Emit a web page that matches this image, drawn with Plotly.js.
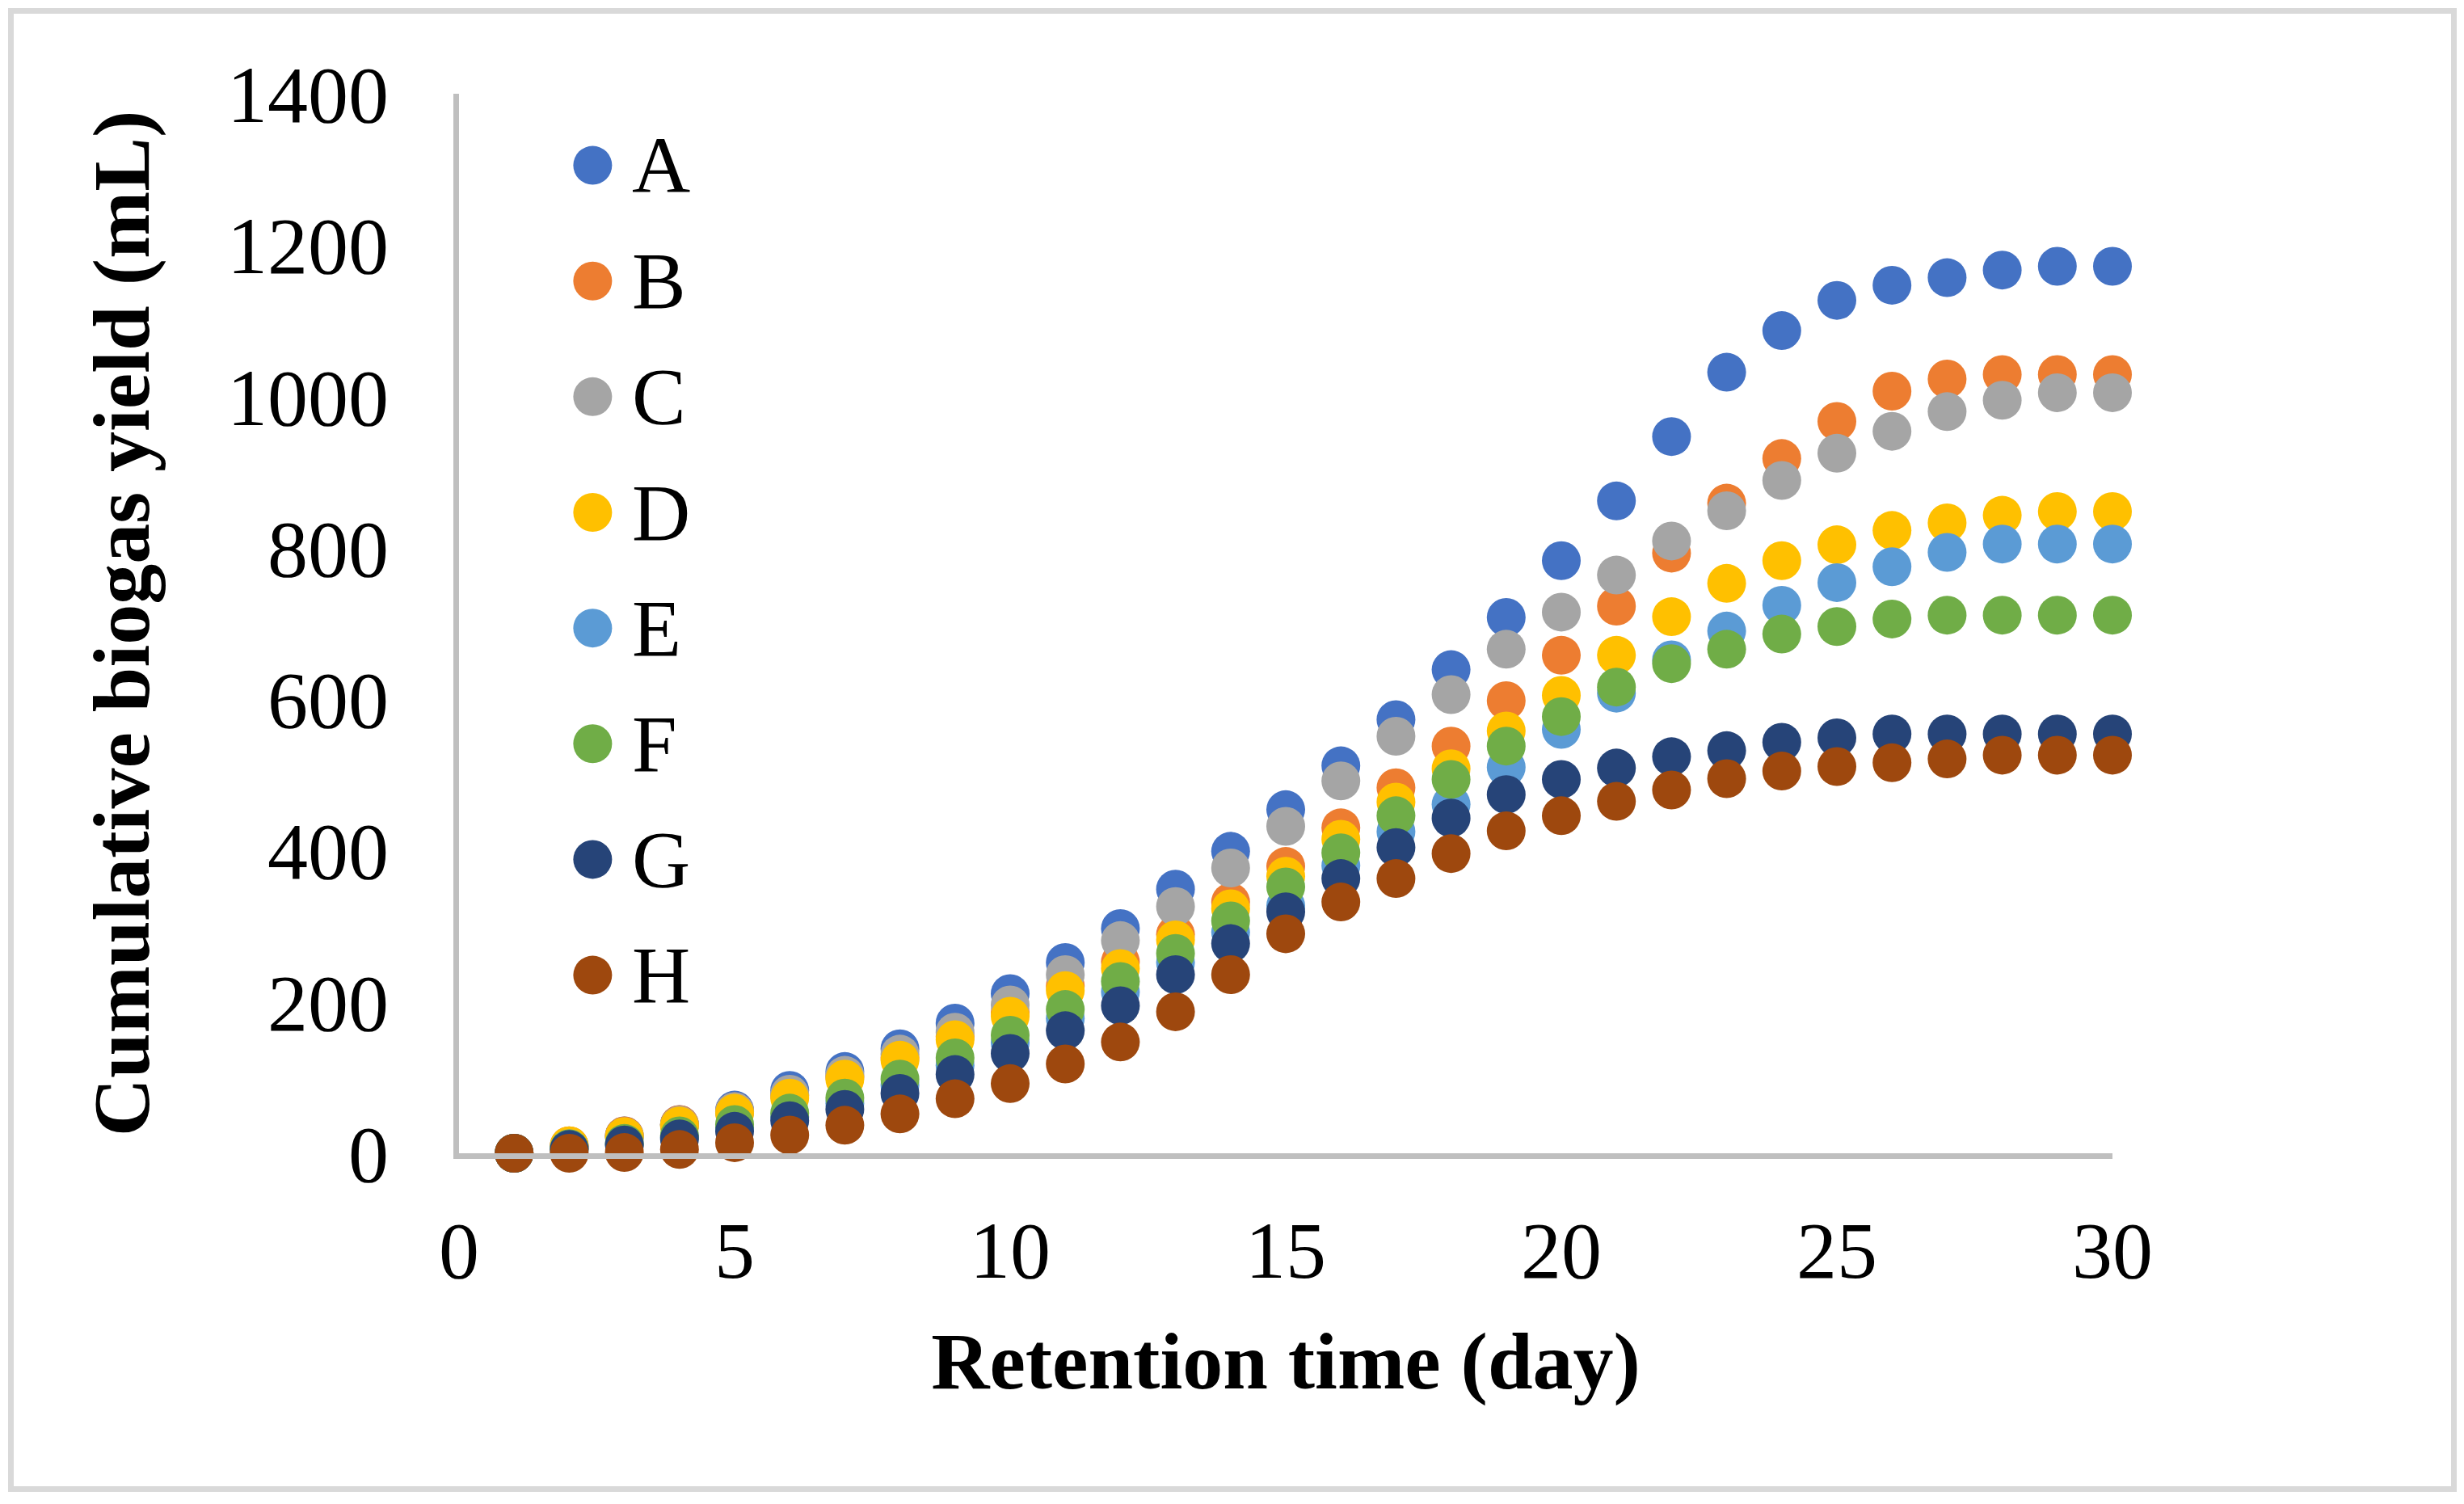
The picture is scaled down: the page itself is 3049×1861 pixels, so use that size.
<!DOCTYPE html>
<html>
<head>
<meta charset="utf-8">
<script src="https://cdn.plot.ly/plotly-3.0.1.min.js"></script>
<style>
  html, body { margin: 0; padding: 0; background: #ffffff; }
  #frame { position: absolute; left: 10px; top: 10px; width: 3016px; height: 1822px; border: 7px solid #D9D9D9; }
  #chart { position: absolute; left: 0; top: 0; width: 3049px; height: 1861px; }
</style>
</head>
<body>
<div id="frame"></div>
<div id="chart"></div>
<script>
const days = [1,2,3,4,5,6,7,8,9,10,11,12,13,14,15,16,17,18,19,20,21,22,23,24,25,26,27,28,29,30];
const seriesNames = ["A","B","C","D","E","F","G","H"];
const seriesColors = ["#4472C4","#ED7D31","#A5A5A5","#FFC000","#5B9BD5","#70AD47","#264478","#9E480E"];
const A = [0,9,23,38,57,83,108,138,172,211,252,297,349,399,454,512,573,639,708,783,862,947,1032,1087,1127,1147,1157,1167,1172,1172];
const B = [0,10,23,38,55,76,101,126,154,186,221,253,289,332,379,430,483,538,598,658,723,793,859,918,967,1007,1023,1029,1029,1029];
const C = [0,9,22,37,55,78,103,131,160,196,236,281,326,377,432,492,551,606,666,715,764,809,849,889,925,954,980,995,1005,1005];
const D = [0,10,22,36,53,73,98,123,150,181,215,244,282,323,366,415,464,508,558,605,658,709,753,783,804,823,833,843,848,848];
const E = [0,6,12,21,34,48,66,90,116,146,178,213,252,292,327,380,425,461,510,560,608,652,690,724,754,775,794,805,805,805];
const F = [0,6,13,23,38,53,73,98,126,156,190,227,264,307,352,397,446,494,538,577,616,647,666,686,696,706,711,711,711,711];
const G = [0,5,11,19,29,43,58,79,104,132,162,195,236,277,319,363,404,443,474,494,509,524,532,543,549,554,554,554,554,554];
const H = [0,0,1,5,14,24,37,52,72,92,118,147,187,236,290,332,363,396,426,446,465,480,495,505,511,516,521,526,526,526];
const seriesValues = [A,B,C,D,E,F,G,H];
const xTicks = [0,5,10,15,20,25,30];
const yTicks = [0,200,400,600,800,1000,1200,1400];

const FONT = "'Liberation Serif', 'Times New Roman', serif";

const traces = seriesNames.map((name, i) => ({
  type: 'scatter',
  mode: 'markers',
  name: name,
  x: days,
  y: seriesValues[i],
  cliponaxis: false,
  marker: { size: 48, color: seriesColors[i], line: { width: 0 } },
  showlegend: false,
  hoverinfo: 'x+y+name'
}));

// Legend drawn with shapes + annotations (plot-area paper coords)
const W = 3049, Hh = 1861;
const mL = 567.6, mR = W - 2614, mT = 116, mB = Hh - 1427.5;
const pw = W - mL - mR, ph = Hh - mT - mB;
const legMarkerX = (733 - mL) / pw;
const legTextX = (780 - mL) / pw;
const legY0 = 204.6, legStep = 143.2;
const shapes = [], annotations = [];
seriesNames.forEach((name, i) => {
  const py = legY0 + legStep * i;
  const yp = (mT + ph - py) / ph;
  shapes.push({
    type: 'circle', xref: 'paper', yref: 'paper',
    xsizemode: 'pixel', ysizemode: 'pixel',
    xanchor: legMarkerX, yanchor: yp,
    x0: -24, x1: 24, y0: -24, y1: 24,
    fillcolor: seriesColors[i], line: { width: 0 }
  });
  annotations.push({
    xref: 'paper', yref: 'paper', x: legTextX, y: yp,
    xanchor: 'left', yanchor: 'middle', showarrow: false,
    text: name, font: { family: FONT, size: 100, color: '#000000' }
  });
});

const layout = {
  width: W, height: Hh,
  margin: { l: mL, r: mR, t: mT, b: mB, pad: 0 },
  paper_bgcolor: 'rgba(0,0,0,0)',
  plot_bgcolor: 'rgba(0,0,0,0)',
  showlegend: false,
  font: { family: FONT, size: 100, color: '#000000' },
  xaxis: {
    range: [0, 30], tickvals: xTicks, ticktext: xTicks.map(String),
    showgrid: false, zeroline: false, showline: true,
    linecolor: '#BFBFBF', linewidth: 7, ticks: '',
    ticklabelstandoff: 27,
    tickfont: { family: FONT, size: 100, color: '#000000' },
    title: { text: '<b>Retention time (day)</b>', standoff: 48,
             font: { family: FONT, size: 100, color: '#000000' } }
  },
  yaxis: {
    range: [0, 1400], tickvals: yTicks, ticktext: yTicks.map(String),
    showgrid: false, zeroline: false, showline: true,
    linecolor: '#BFBFBF', linewidth: 7, ticks: '',
    ticklabelstandoff: 60,
    tickfont: { family: FONT, size: 100, color: '#000000' },
    title: { text: '<b>Cumulative biogas yield (mL)</b>', standoff: 66,
             font: { family: FONT, size: 100, color: '#000000' } }
  },
  shapes: shapes,
  annotations: annotations
};

Plotly.newPlot('chart', traces, layout, { displayModeBar: false, staticPlot: true });
</script>
</body>
</html>
